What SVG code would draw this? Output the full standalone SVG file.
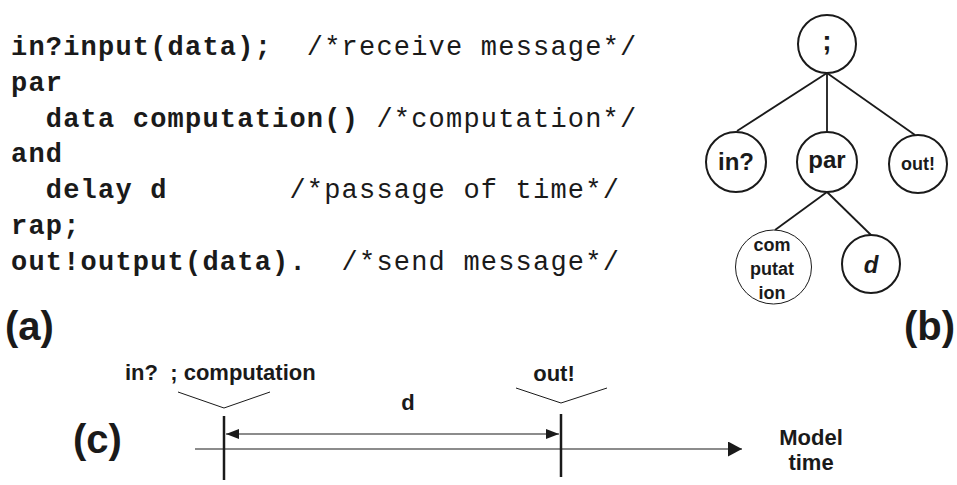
<svg xmlns="http://www.w3.org/2000/svg" width="957" height="485" viewBox="0 0 957 485">
<style>
.code{font-family:"Courier New","Liberation Mono",monospace;font-size:27px;letter-spacing:1.2px;fill:#1a1a1a}
.b{font-weight:bold}
.lab{font-family:"Liberation Sans",Arial,sans-serif;font-weight:bold;fill:#1a1a1a}
.node{fill:#fff;stroke:#1a1a1a;stroke-width:2}
.thin{stroke-width:1}
.edge{stroke:#1a1a1a;stroke-width:1.8;fill:none}
.ln{stroke:#1a1a1a;fill:none}
</style>
<defs>
<marker id="big" viewBox="0 0 14 15" refX="14" refY="7.5" markerWidth="14" markerHeight="15" orient="auto-start-reverse" markerUnits="userSpaceOnUse"><path d="M0,0 L14,7.5 L0,15 z" fill="#1a1a1a"/></marker>
<marker id="sm" viewBox="0 0 13 10" refX="13" refY="5" markerWidth="13" markerHeight="10" orient="auto-start-reverse" markerUnits="userSpaceOnUse"><path d="M0,0 L13,5 L0,10 z" fill="#1a1a1a"/></marker>
</defs>

<g id="code">
<text class="code" y="55"><tspan class="b" x="11">in?input(data);</tspan><tspan x="306.8">/*receive message*/</tspan></text>
<text class="code b" x="11" y="91">par</text>
<text class="code" y="127"><tspan class="b" x="45.8">data computation()</tspan><tspan x="376.4">/*computation*/</tspan></text>
<text class="code b" x="11" y="162">and</text>
<text class="code" y="198"><tspan class="b" x="45.8">delay d</tspan><tspan x="289.4">/*passage of time*/</tspan></text>
<text class="code b" x="11" y="234">rap;</text>
<text class="code" y="270"><tspan class="b" x="11">out!output(data).</tspan><tspan x="341.6">/*send message*/</tspan></text>
</g>

<g id="labels">
<text class="lab" x="5" y="340" font-size="40">(a)</text>
<text class="lab" x="955" y="340" font-size="40" text-anchor="end">(b)</text>
<text class="lab" x="73" y="453" font-size="40">(c)</text>
</g>

<g id="tree-edges">
<line class="edge" x1="827" y1="73" x2="737" y2="131"/>
<line class="edge" x1="827" y1="73" x2="827" y2="132"/>
<line class="edge" x1="827" y1="73" x2="915" y2="135"/>
<line class="edge" x1="827" y1="192" x2="775" y2="230" stroke-width="1"/>
<line class="edge" x1="827" y1="192" x2="871" y2="235"/>
</g>

<g id="n-root"><circle class="node" cx="827" cy="44" r="29"/><text class="lab" x="827" y="50" font-size="28" text-anchor="middle">;</text></g>
<g id="n-in"><circle class="node" cx="736" cy="162" r="30"/><text class="lab" x="736" y="170" font-size="24" text-anchor="middle">in?</text></g>
<g id="n-par"><circle class="node" cx="827" cy="162" r="30"/><text class="lab" x="827" y="168" font-size="24" text-anchor="middle">par</text></g>
<g id="n-out"><circle class="node" cx="918" cy="164" r="29"/><text class="lab" x="918" y="170" font-size="18" text-anchor="middle">out!</text></g>
<g id="n-comp"><ellipse class="node thin" cx="773.5" cy="267" rx="38" ry="37"/><text class="lab" font-size="18" text-anchor="middle"><tspan x="772" y="251">com</tspan><tspan x="772" y="275">putat</tspan><tspan x="772" y="299">ion</tspan></text></g>
<g id="n-d"><circle class="node" cx="871" cy="264" r="29"/><text class="lab" x="871" y="273" font-size="24" font-style="italic" text-anchor="middle">d</text></g>

<g id="timeline">
<line class="ln" x1="195" y1="449" x2="742" y2="449" stroke-width="1.2" marker-end="url(#big)"/>
<line class="ln" x1="224" y1="416" x2="224" y2="480" stroke-width="2.5"/>
<line class="ln" x1="561" y1="414" x2="561" y2="477" stroke-width="2.5"/>
<line class="ln" x1="226" y1="434" x2="559" y2="434" stroke-width="1.2" marker-start="url(#sm)" marker-end="url(#sm)"/>
<polyline class="ln" points="178,392 224,408 270,392" stroke-width="1"/>
<polyline class="ln" points="516,388 561,403 607,388" stroke-width="1"/>
<text class="lab" x="125" y="380" font-size="22" xml:space="preserve">in?  ; computation</text>
<text class="lab" x="554" y="381" font-size="22" text-anchor="middle">out!</text>
<text class="lab" x="408" y="410" font-size="22" text-anchor="middle">d</text>
<text class="lab" x="811" y="445" font-size="22" text-anchor="middle">Model</text>
<text class="lab" x="811" y="470" font-size="22" text-anchor="middle">time</text>
</g>
</svg>
